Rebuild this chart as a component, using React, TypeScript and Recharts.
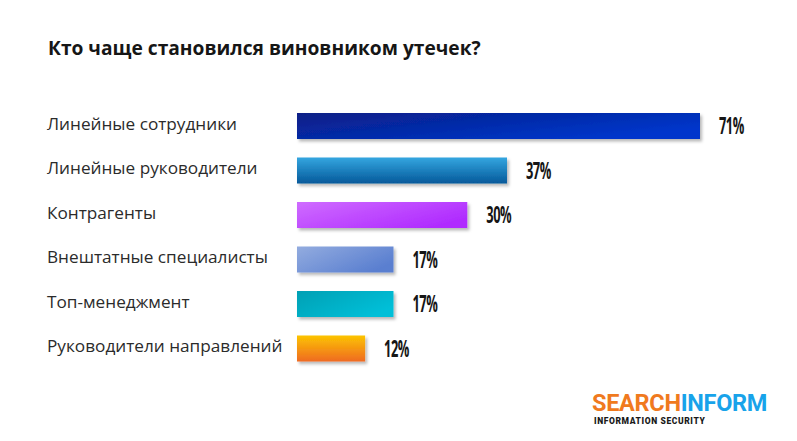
import React from "react";
import { Bar, BarChart, Cell, LabelList, XAxis, YAxis } from "recharts";

// Survey answers: who most often caused the leak (share of respondents, %)
const categories = [
  "Линейные сотрудники",
  "Линейные руководители",
  "Контрагенты",
  "Внештатные специалисты",
  "Топ-менеджмент",
  "Руководители направлений",
];
const shares = [71, 37, 30, 17, 17, 12];

// gradient per bar: [from, to, direction]
const fills: [string, string, "h" | "v"][] = [
  ["#0a1f86", "#0036cc", "h"],
  ["#34a6e0", "#05599a", "v"],
  ["#cf6cff", "#b02cff", "h"],
  ["#93acdf", "#5a7fd0", "h"],
  ["#00a0b4", "#00bfd8", "h"],
  ["#fcc400", "#ef6a22", "v"],
];

const data = categories.map((name, i) => ({ name, value: shares[i] }));

const FONT = "'Open Sans', 'Noto Sans', sans-serif";

function CategoryTick({ y, payload }: any) {
  return (
    <text x={47} y={y} dy={-1} textAnchor="start" dominantBaseline="middle"
      fontFamily={FONT} fontSize={17.2} fill="#2b2b2b">
      {payload.value}
    </text>
  );
}

// the original uses a tall condensed face; squeeze a bold sans horizontally
function ValueLabel({ x, y, width, height, value }: any) {
  return (
    <text transform={`translate(${x + width + 19}, ${y + height / 2 + 2}) scale(0.56, 1)`}
      dominantBaseline="middle" fontFamily={FONT}
      fontWeight={700} fontSize={23} letterSpacing={-0.9} fill="#161616">
      {value}%
    </text>
  );
}

export default function App() {
  return (
    <div style={{ position: "absolute", left: 0, top: 0, width: 797, height: 441, background: "#fff" }}>
      <div style={{ position: "absolute", left: 48, top: 34, fontFamily: FONT, fontWeight: 700, fontSize: 19.2, color: "#161616" }}>
        Кто чаще становился виновником утечек?
      </div>
      <BarChart width={797} height={441} data={data} layout="vertical"
        margin={{ top: 104, right: 97, bottom: 70, left: 0 }}>
        <defs>
          {fills.map(([a, b, d], i) => (
            <linearGradient key={i} id={`g${i}`} x1="0" y1="0" x2={d === "h" ? "1" : "0"} y2={d === "h" ? "0.6" : "1"}>
              <stop offset="0%" stopColor={a} />
              <stop offset="100%" stopColor={b} />
            </linearGradient>
          ))}
          <filter id="shadow" x="-5%" y="-20%" width="115%" height="160%">
            <feDropShadow dx="2" dy="2.5" stdDeviation="1.5" floodColor="#000" floodOpacity="0.28" />
          </filter>
        </defs>
        <XAxis type="number" domain={[0, 71]} hide />
        <YAxis type="category" dataKey="name" width={297} axisLine={false} tickLine={false} tick={<CategoryTick />} />
        <Bar dataKey="value" barSize={26} isAnimationActive={false} filter="url(#shadow)">
          {data.map((_, i) => (
            <Cell key={i} fill={`url(#g${i})`} />
          ))}
          <LabelList dataKey="value" content={<ValueLabel />} />
        </Bar>
      </BarChart>
      <div style={{ position: "absolute", left: 592, top: 390, fontFamily: "'Roboto', 'Noto Sans', sans-serif", fontWeight: 700, fontSize: 23.5, letterSpacing: -0.3, lineHeight: "26px" }}>
        <span style={{ color: "#f07a1e" }}>SEARCH</span>
        <span style={{ color: "#18a3ea" }}>INFORM</span>
      </div>
      <div style={{ position: "absolute", left: 594, top: 416, fontFamily: "'Roboto', sans-serif", fontWeight: 900, fontSize: 8.5, letterSpacing: 0.6, color: "#1a1a1a" }}>
        INFORMATION SECURITY
      </div>
    </div>
  );
}
